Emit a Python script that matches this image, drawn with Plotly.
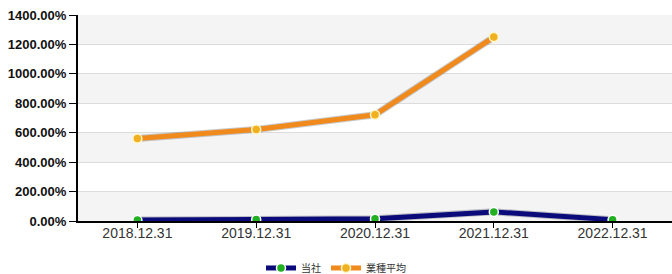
import plotly.graph_objects as go

categories = ["2018.12.31", "2019.12.31", "2020.12.31", "2021.12.31", "2022.12.31"]
company = [6, 10, 15, 62, 9]
industry_avg = [560, 622, 722, 1250, None]
series_names = ["当社", "業種平均"]
y_ticks = [0, 200, 400, 600, 800, 1000, 1200, 1400]
y_tick_labels = [f"{v:.2f}%" for v in y_ticks]

fig = go.Figure()

# alternating background bands
shapes = []
for i in range(0, len(y_ticks) - 1, 2):
    shapes.append(dict(type="rect", xref="paper", yref="y", x0=0, x1=1,
                       y0=y_ticks[i], y1=y_ticks[i + 1],
                       fillcolor="#f4f4f4", line=dict(width=0), layer="below"))

# shadows
fig.add_trace(go.Scatter(x=categories, y=industry_avg, mode="lines",
                         line=dict(color="rgba(80,80,80,0.3)", width=7),
                         showlegend=False, hoverinfo="skip"))
fig.add_trace(go.Scatter(x=categories, y=company, mode="lines",
                         line=dict(color="rgba(60,60,90,0.3)", width=7),
                         showlegend=False, hoverinfo="skip"))

fig.add_trace(go.Scatter(x=categories, y=company, mode="lines+markers", name=series_names[0],
                         line=dict(color="#0a0a7a", width=5),
                         marker=dict(color="#22b022", size=9, line=dict(color="#ffffff", width=1.5))))
fig.add_trace(go.Scatter(x=categories, y=industry_avg, mode="lines+markers", name=series_names[1],
                         line=dict(color="#f08a1c", width=5),
                         marker=dict(color="#f0b020", size=9, line=dict(color="#fff6c8", width=1.5))))

fig.update_layout(
    width=672, height=274,
    margin=dict(l=78, r=0, t=15, b=53, autoexpand=False),
    paper_bgcolor="#ffffff", plot_bgcolor="#ffffff",
    shapes=shapes,
    font=dict(family="Liberation Sans, Arial, sans-serif", color="#222"),
    xaxis=dict(type="category", range=[-0.5, 4.5], showgrid=False,
               showline=True, linecolor="#000", linewidth=2,
               ticks="outside", ticklen=5, tickcolor="#000", ticklabelstandoff=-7,
               tickfont=dict(size=14, color="#333"), fixedrange=True, automargin=False),
    yaxis=dict(range=[0, 1400], tickvals=y_ticks, ticktext=y_tick_labels,
               showgrid=True, gridcolor="#dcdcdc", gridwidth=1,
               showline=True, linecolor="#000", linewidth=2,
               ticks="outside", ticklen=7, tickcolor="#000",
               tickfont=dict(size=13, color="#111", family="Liberation Sans, Arial, sans-serif", weight="bold"),
               zeroline=False, fixedrange=True, automargin=False),
    legend=dict(orientation="h", x=0.5, xanchor="center", xref="container",
                y=-0.228, yanchor="middle", yref="paper",
                font=dict(size=10, family="Noto Sans CJK JP", color="#333"),
                itemwidth=30, tracegroupgap=0),
    showlegend=True,
)

fig.write_html("out.html", config={"displayModeBar": False},
               post_script="document.body.style.margin='0';document.body.style.overflow='hidden';")
